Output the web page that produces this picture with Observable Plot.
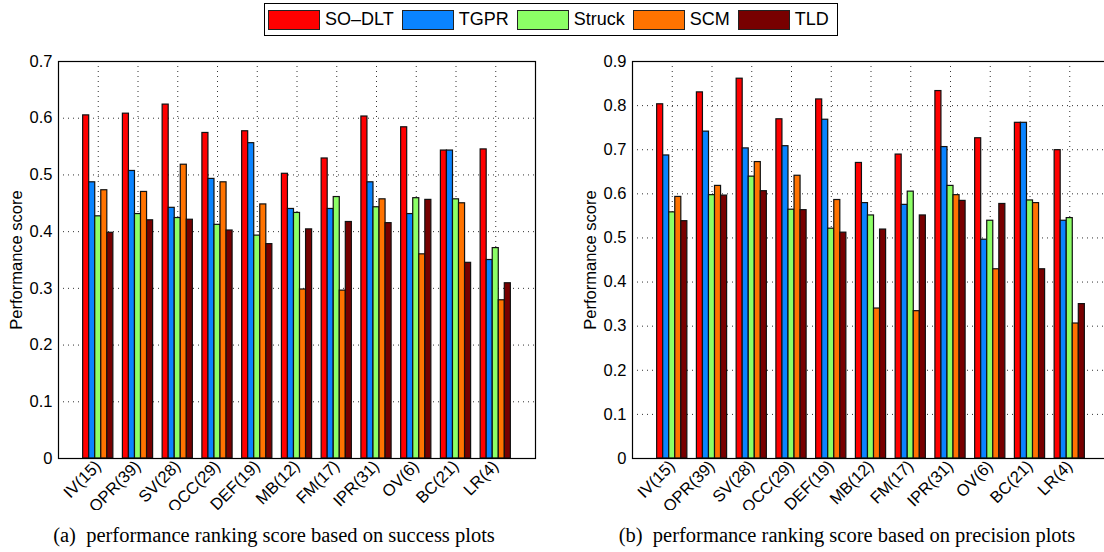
<!DOCTYPE html>
<html>
<head>
<meta charset="utf-8">
<script src="https://cdn.jsdelivr.net/npm/d3@7"></script>
<script src="https://cdn.jsdelivr.net/npm/@observablehq/plot@0.6"></script>
<style>
  html, body { margin: 0; padding: 0; background: white; }
  #wrap { position: relative; width: 1104px; height: 552px; overflow: hidden; background: white; }
  #legend { position: absolute; left: 264px; top: 3px; width: 574px; height: 33px; border: 1px solid #000; box-sizing: border-box;
            display: flex; align-items: center; font-family: "Liberation Sans", Arial, sans-serif; font-size: 18px; white-space: nowrap; }
  .item { display: flex; align-items: center; flex-shrink: 0; margin-left: 8px; }
  .item:first-child { margin-left: 3px; }
  .item span { white-space: nowrap; }
  .sw { width: 52px; height: 20px; border: 1px solid #222; box-sizing: border-box; margin-right: 5px; }
  .chart { position: absolute; top: 40px; }
  .chart svg { max-width: none !important; }
  .cap { position: absolute; top: 524px; font-family: "Liberation Serif", "Times New Roman", serif; font-size: 20.5px; text-align: center; white-space: nowrap; }
</style>
</head>
<body>
<div id="wrap">
  <div id="legend"></div>
  <div id="left" class="chart" style="left:0px; width:552px"></div>
  <div id="right" class="chart" style="left:552px; width:600px"></div>
  <div class="cap" style="left:0px; width:548px">(a)&nbsp; performance ranking score based on success plots</div>
  <div class="cap" style="left:600px; width:494px">(b)&nbsp; performance ranking score based on precision plots</div>
</div>
<script>
const categories = ["IV(15)","OPR(39)","SV(28)","OCC(29)","DEF(19)","MB(12)","FM(17)","IPR(31)","OV(6)","BC(21)","LR(4)"];
const trackers = ["SO–DLT","TGPR","Struck","SCM","TLD"];
const trackerColors = ["#ff0000","#0a84ff","#8cff66","#ff7300","#780000"];

const successSODLT  = [0.605,0.608,0.624,0.574,0.577,0.502,0.529,0.603,0.584,0.543,0.545];
const successTGPR   = [0.487,0.507,0.442,0.493,0.556,0.440,0.440,0.487,0.431,0.543,0.350];
const successStruck = [0.427,0.431,0.424,0.412,0.393,0.433,0.461,0.443,0.459,0.457,0.371];
const successSCM    = [0.473,0.470,0.518,0.487,0.448,0.298,0.296,0.457,0.360,0.450,0.279];
const successTLD    = [0.398,0.420,0.421,0.402,0.378,0.404,0.417,0.415,0.456,0.345,0.309];

const precisionSODLT  = [0.803,0.830,0.861,0.769,0.814,0.670,0.689,0.833,0.726,0.761,0.699];
const precisionTGPR   = [0.687,0.741,0.703,0.708,0.768,0.579,0.575,0.706,0.496,0.761,0.539];
const precisionStruck = [0.558,0.597,0.639,0.564,0.521,0.551,0.605,0.618,0.539,0.585,0.545];
const precisionSCM    = [0.593,0.618,0.672,0.641,0.586,0.340,0.334,0.597,0.429,0.579,0.306];
const precisionTLD    = [0.538,0.596,0.606,0.563,0.512,0.519,0.551,0.584,0.577,0.429,0.350];

const successTicks   = [0,0.1,0.2,0.3,0.4,0.5,0.6,0.7];
const precisionTicks = [0,0.1,0.2,0.3,0.4,0.5,0.6,0.7,0.8,0.9];
const groupTicks = [1,2,3,4,5,6,7,8,9,10,11];

// legend
const legend = document.getElementById("legend");
trackers.forEach((t, i) => {
  const it = document.createElement("div");
  it.className = "item";
  const sw = document.createElement("div");
  sw.className = "sw";
  sw.style.background = trackerColors[i];
  const lab = document.createElement("span");
  lab.textContent = t;
  it.appendChild(sw); it.appendChild(lab);
  legend.appendChild(it);
});

const bw = 0.152;
function chart(series, ticks, opts) {
  const rows = [];
  categories.forEach((c, i) => series.forEach((vals, s) =>
    rows.push({cat: c, pos: i + 1, s, tracker: trackers[s], value: vals[i]})));
  return Plot.plot({
    width: opts.width,
    height: 470,
    marginTop: 21,
    marginBottom: 52,
    marginLeft: opts.marginLeft,
    marginRight: opts.marginRight,
    style: {fontFamily: "'Liberation Sans', Arial, sans-serif", fontSize: "16.5px", background: "white", color: "black"},
    x: {domain: [0, 12], ticks: groupTicks, tickFormat: d => categories[d - 1], tickRotate: -45, tickSize: 0, tickPadding: 5, label: null},
    y: {domain: [0, ticks[ticks.length - 1]], ticks: ticks, tickFormat: d => String(d), tickSize: 0, tickPadding: 6,
        label: "Performance score", labelAnchor: "center", labelOffset: opts.labelOffset, labelArrow: "none"},
    color: {domain: trackers, range: trackerColors},
    marks: [
      Plot.ruleX(groupTicks, {stroke: "#333", strokeWidth: 1, strokeDasharray: "1,4"}),
      Plot.ruleY(ticks, {stroke: "#333", strokeWidth: 1, strokeDasharray: "1,4"}),
      Plot.rectY(rows, {
        x1: d => d.pos + (d.s - 2.5) * bw,
        x2: d => d.pos + (d.s - 1.5) * bw,
        y: "value",
        fill: "tracker",
        stroke: "#111",
        strokeWidth: 1.2
      }),
      Plot.frame({stroke: "black", strokeWidth: 1.2})
    ]
  });
}

document.getElementById("left").appendChild(
  chart([successSODLT, successTGPR, successStruck, successSCM, successTLD], successTicks,
        {width: 552, marginLeft: 58, marginRight: 17, labelOffset: 48}));
document.getElementById("right").appendChild(
  chart([precisionSODLT, precisionTGPR, precisionStruck, precisionSCM, precisionTLD], precisionTicks,
        {width: 600, marginLeft: 80, marginRight: 43, labelOffset: 48}));
</script>
</body>
</html>
